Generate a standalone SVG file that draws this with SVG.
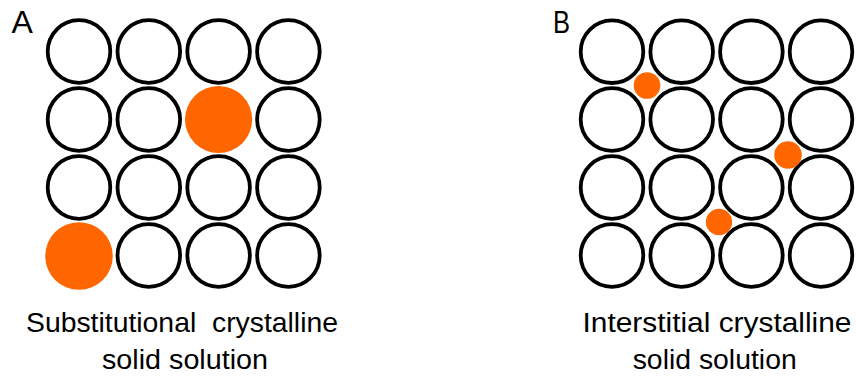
<svg xmlns="http://www.w3.org/2000/svg" width="856" height="376" viewBox="0 0 856 376">
<style>
.atom{fill:none;stroke:#000;stroke-width:3.8}
.sub{fill:#FF6600}
.lbl{font-family:"Liberation Sans",Arial,sans-serif;font-size:32px;fill:#000}
.cap{font-family:"Liberation Sans",Arial,sans-serif;font-size:27.5px;fill:#000;text-anchor:middle}
</style>
<defs>
<circle id="c" r="31.3" class="atom"/>
</defs>
<rect width="856" height="376" fill="#fff"/>
<g id="panelA">
<text class="lbl" x="11.5" y="33">A</text>
<g id="latticeA">
<use href="#c" x="79" y="51.5"/><use href="#c" x="148.8" y="51.5"/><use href="#c" x="218.6" y="51.5"/><use href="#c" x="288.4" y="51.5"/>
<use href="#c" x="79" y="119.5"/><use href="#c" x="148.8" y="119.5"/><use href="#c" x="288.4" y="119.5"/>
<use href="#c" x="79" y="187.5"/><use href="#c" x="148.8" y="187.5"/><use href="#c" x="218.6" y="187.5"/><use href="#c" x="288.4" y="187.5"/>
<use href="#c" x="148.8" y="255.5"/><use href="#c" x="218.6" y="255.5"/><use href="#c" x="288.4" y="255.5"/>
</g>
<circle class="sub" cx="218.6" cy="119.5" r="33.6"/>
<circle class="sub" cx="79" cy="256" r="33.8"/>
<text class="cap" x="182" y="332" textLength="312" lengthAdjust="spacingAndGlyphs">Substitutional&#160; crystalline</text>
<text class="cap" x="185" y="369" textLength="166" lengthAdjust="spacingAndGlyphs">solid solution</text>
</g>
<g id="panelB">
<text class="lbl" x="553" y="33" textLength="17" lengthAdjust="spacingAndGlyphs">B</text>
<g id="latticeB">
<use href="#c" x="612" y="51.7"/><use href="#c" x="681.7" y="51.7"/><use href="#c" x="751.4" y="51.7"/><use href="#c" x="821" y="51.7"/>
<use href="#c" x="612" y="119.5"/><use href="#c" x="681.7" y="119.5"/><use href="#c" x="751.4" y="119.5"/><use href="#c" x="821" y="119.5"/>
<use href="#c" x="612" y="187.5"/><use href="#c" x="681.7" y="187.5"/><use href="#c" x="751.4" y="187.5"/><use href="#c" x="821" y="187.5"/>
<use href="#c" x="612" y="255.5"/><use href="#c" x="681.7" y="255.5"/><use href="#c" x="751.4" y="255.5"/><use href="#c" x="821" y="255.5"/>
</g>
<circle class="sub" cx="647" cy="85.5" r="13.3"/>
<circle class="sub" cx="788" cy="155" r="13.8"/>
<circle class="sub" cx="719" cy="222" r="13.2"/>
<text class="cap" x="717" y="332" textLength="269" lengthAdjust="spacingAndGlyphs">Interstitial crystalline</text>
<text class="cap" x="714.7" y="369" textLength="164" lengthAdjust="spacingAndGlyphs">solid solution</text>
</g>
</svg>
